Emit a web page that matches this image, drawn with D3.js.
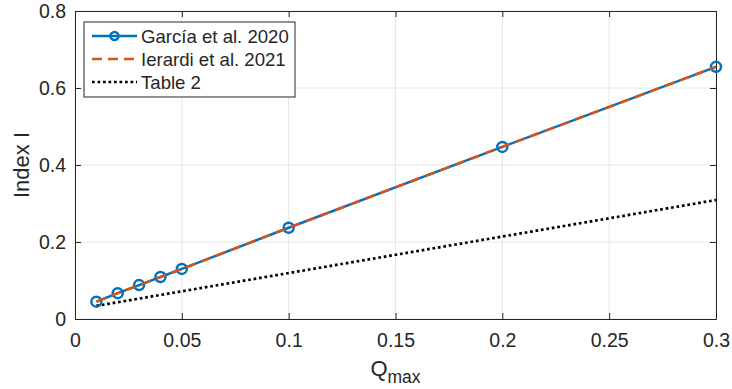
<!DOCTYPE html>
<html>
<head>
<meta charset="utf-8">
<script src="https://cdn.jsdelivr.net/npm/d3@7"></script>
<style>
  body { margin: 0; background: #fff; }
  text { font-family: "Liberation Sans", Arial, sans-serif; fill: #262626; }
</style>
</head>
<body>
<script>
(function(){

    //data
    var qmax = [0.01, 0.02, 0.03, 0.04, 0.05, 0.1, 0.2, 0.3];
    var garcia = [0.045, 0.067, 0.088, 0.109, 0.130, 0.237, 0.447, 0.655];
    var ierardi = [0.045, 0.067, 0.088, 0.109, 0.130, 0.237, 0.447, 0.655];
    var tableQ = [0.01, 0.3];
    var table2 = [0.034, 0.309];
    var xTicks = [0, 0.05, 0.1, 0.15, 0.2, 0.25, 0.3];
    var yTicks = [0, 0.2, 0.4, 0.6, 0.8];
    var seriesNames = ["García et al. 2020", "Ierardi et al. 2021", "Table 2"];

    var width = 732, height = 389;
    var margin = {left: 75, right: 16, top: 11, bottom: 70};

    var svg = d3.select("body").append("svg")
        .attr("width", width)
        .attr("height", height);

    var x = d3.scaleLinear().domain([0, 0.3]).range([margin.left, width - margin.right]);
    var y = d3.scaleLinear().domain([0, 0.8]).range([height - margin.bottom, margin.top]);

    //grid lines
    svg.selectAll(".gx").data(xTicks).enter().append("line")
        .attr("x1", function(d){ return x(d); })
        .attr("x2", function(d){ return x(d); })
        .attr("y1", y(0)).attr("y2", y(0.8))
        .attr("stroke", "#e6e6e6").attr("stroke-width", 1);
    svg.selectAll(".gy").data(yTicks).enter().append("line")
        .attr("y1", function(d){ return y(d); })
        .attr("y2", function(d){ return y(d); })
        .attr("x1", x(0)).attr("x2", x(0.3))
        .attr("stroke", "#e6e6e6").attr("stroke-width", 1);

    //axes
    var fmt = function(d){ return d3.format("")(+d.toFixed(2)); };
    var xAxis = svg.append("g")
        .attr("transform", "translate(0," + y(0) + ")")
        .call(d3.axisBottom(x).tickValues(xTicks).tickSizeInner(-6).tickSizeOuter(0).tickPadding(14).tickFormat(fmt));
    var yAxis = svg.append("g")
        .attr("transform", "translate(" + x(0) + ",0)")
        .call(d3.axisLeft(y).tickValues(yTicks).tickSizeInner(-6).tickSizeOuter(0).tickPadding(9).tickFormat(fmt));
    var xTop = svg.append("g")
        .attr("transform", "translate(0," + y(0.8) + ")")
        .call(d3.axisTop(x).tickValues(xTicks).tickSizeInner(-6).tickSizeOuter(0).tickFormat(""));
    var yRight = svg.append("g")
        .attr("transform", "translate(" + x(0.3) + ",0)")
        .call(d3.axisRight(y).tickValues(yTicks).tickSizeInner(-6).tickSizeOuter(0).tickFormat(""));

    [xAxis, yAxis, xTop, yRight].forEach(function(g){
        g.selectAll("path").attr("stroke", "#262626").attr("stroke-width", 1);
        g.selectAll("line").attr("stroke", "#262626").attr("stroke-width", 1);
        g.selectAll("text").style("font-size", "19.5px").attr("fill", "#262626")
            .style("font-family", "'Liberation Sans', Arial, sans-serif");
    });

    //axis labels
    var xl = svg.append("text")
        .attr("x", (x(0) + x(0.3)) / 2)
        .attr("y", 376)
        .attr("text-anchor", "middle")
        .style("font-size", "22px");
    xl.append("tspan").text("Q");
    xl.append("tspan").attr("dy", 7).style("font-size", "17.5px").text("max");

    svg.append("text")
        .attr("transform", "translate(29," + ((y(0) + y(0.8)) / 2) + ") rotate(-90)")
        .attr("text-anchor", "middle")
        .style("font-size", "22px")
        .text("Index I");

    //lines
    var line = d3.line()
        .x(function(d){ return x(d[0]); })
        .y(function(d){ return y(d[1]); });

    svg.append("path")
        .datum(d3.zip(tableQ, table2))
        .attr("d", line)
        .attr("fill", "none")
        .attr("stroke", "#000")
        .attr("stroke-width", 2.7)
        .attr("stroke-dasharray", "2.7,2.8");

    svg.append("path")
        .datum(d3.zip(qmax, garcia))
        .attr("d", line)
        .attr("fill", "none")
        .attr("stroke", "#0072BD")
        .attr("stroke-width", 2.5);

    svg.selectAll(".mk").data(d3.zip(qmax, garcia)).enter().append("circle")
        .attr("cx", function(d){ return x(d[0]); })
        .attr("cy", function(d){ return y(d[1]); })
        .attr("r", 5)
        .attr("fill", "none")
        .attr("stroke", "#0072BD")
        .attr("stroke-width", 2.5);

    svg.append("path")
        .datum(d3.zip(qmax, ierardi))
        .attr("d", line)
        .attr("fill", "none")
        .attr("stroke", "#D95319")
        .attr("stroke-width", 2.5)
        .attr("stroke-dasharray", "10,6");

    //legend
    var lg = svg.append("g").attr("transform", "translate(84,22)");
    lg.append("rect")
        .attr("width", 211).attr("height", 75)
        .attr("fill", "#fff").attr("stroke", "#262626").attr("stroke-width", 1);

    var rowY = [14, 37, 60];
    var styles = [
        {stroke: "#0072BD", dash: null, marker: true},
        {stroke: "#D95319", dash: "10,6", marker: false},
        {stroke: "#000", dash: "2.7,2.8", marker: false}
    ];
    seriesNames.forEach(function(name, i){
        var g = lg.append("g").attr("transform", "translate(0," + rowY[i] + ")");
        g.append("line")
            .attr("x1", 8).attr("x2", 53)
            .attr("stroke", styles[i].stroke)
            .attr("stroke-width", 2.5)
            .attr("stroke-dasharray", styles[i].dash);
        if (styles[i].marker) {
            g.append("circle").attr("cx", 30.5).attr("r", 4)
                .attr("fill", "none").attr("stroke", styles[i].stroke).attr("stroke-width", 2.5);
        }
        g.append("text")
            .attr("x", 57).attr("y", 6.5)
            .style("font-size", "18.6px")
            .text(name);
    });

})();
</script>
</body>
</html>
